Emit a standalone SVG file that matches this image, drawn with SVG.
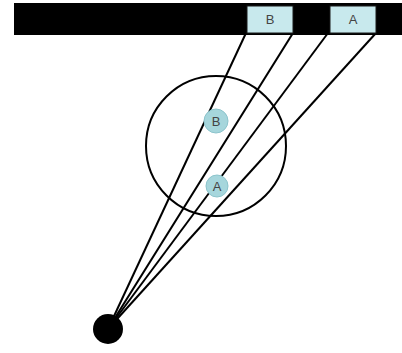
<svg xmlns="http://www.w3.org/2000/svg" width="402" height="353" viewBox="0 0 402 353">
<style>
.ray{stroke:#000;stroke-width:2;fill:none}
.box{fill:#c8e9ed;stroke:#1a1a1a;stroke-width:1}
.lbl{font-family:"Liberation Sans",Arial,sans-serif;font-size:13px;fill:#444;text-anchor:middle}
.spot{fill:#a6d6dc;stroke:#8cc4cc;stroke-width:1}
</style>
<rect id="bar" x="14" y="3" width="388" height="32" fill="#000"/>
<g id="connectors">
<line class="ray" x1="108" y1="329" x2="246" y2="33"/>
<line class="ray" x1="108" y1="329" x2="293" y2="33"/>
<line class="ray" x1="108" y1="329" x2="328" y2="33"/>
<line class="ray" x1="108" y1="329" x2="376" y2="33"/>
</g>
<g id="sphere"><circle cx="216" cy="146" r="70" fill="none" stroke="#000" stroke-width="2"/></g>
<g id="boxB"><rect class="box" x="247" y="6" width="46" height="27"/><text class="lbl" x="270" y="24">B</text></g>
<g id="boxA"><rect class="box" x="330" y="6" width="46" height="27"/><text class="lbl" x="353" y="24">A</text></g>
<g id="spotB"><circle class="spot" cx="216" cy="121" r="12"/><text class="lbl" x="216" y="126" font-size="12">B</text></g>
<g id="spotA"><circle class="spot" cx="217" cy="186" r="11"/><text class="lbl" x="217" y="191" font-size="12">A</text></g>
<g id="eye"><circle cx="108" cy="329" r="15" fill="#000"/></g>
</svg>
